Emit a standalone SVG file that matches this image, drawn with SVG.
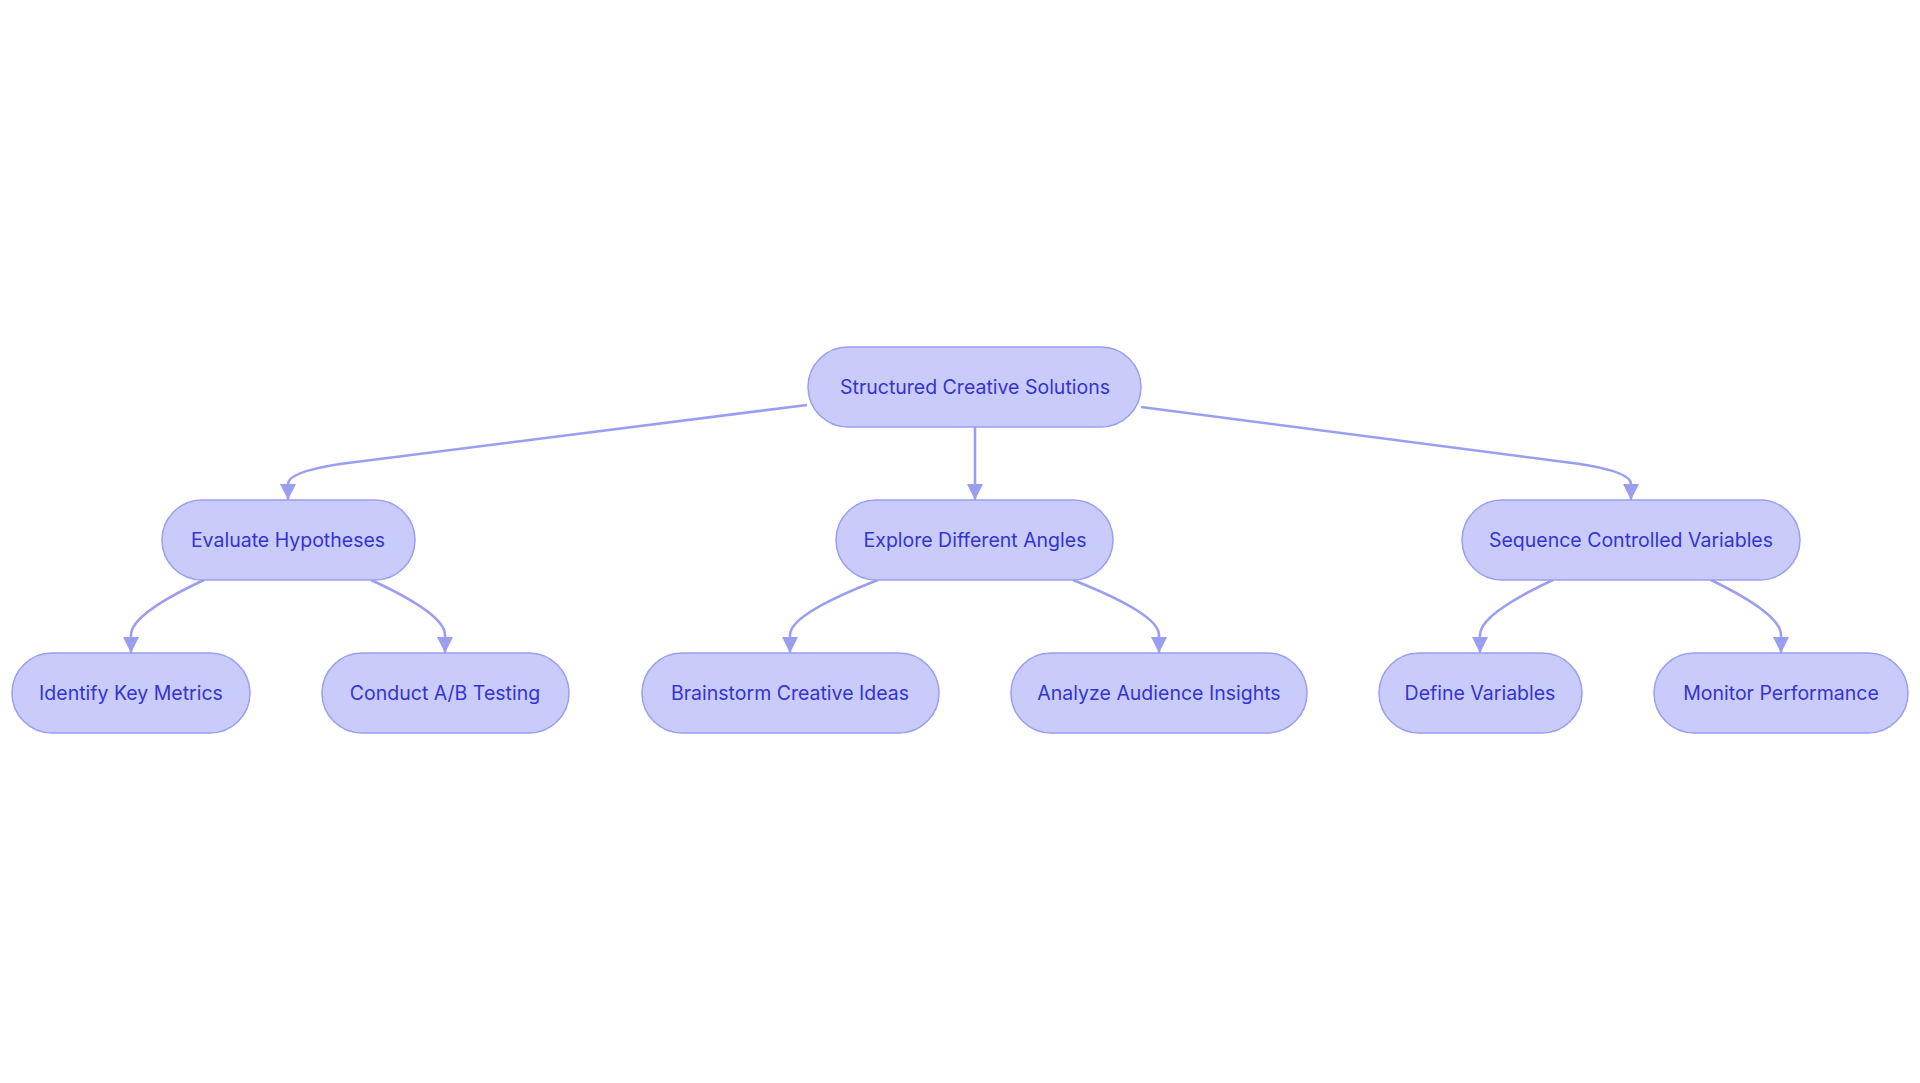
<svg xmlns="http://www.w3.org/2000/svg" width="1920" height="1083" viewBox="0 0 1920 1083">
<style>
.n rect{fill:#c9cbfb;stroke:#9a9ef0;stroke-width:1.5}
.n text{font-family:Inter,"Liberation Sans",sans-serif;font-size:19.5px;fill:#3434cf;text-anchor:middle;dominant-baseline:central}
.e path{fill:none;stroke:#9a9ef0;stroke-width:2.6}
</style>
<defs>
<marker id="a" markerUnits="userSpaceOnUse" markerWidth="20" markerHeight="20" refX="16" refY="8" orient="auto">
<path d="M0,0 L16,8 L0,16 z" fill="#9a9ef0"/>
</marker>
</defs>
<rect width="1920" height="1083" fill="#fff"/>
<g class="e">
<path d="M807,405 L340,464 Q288,472 288,484 L288,500" marker-end="url(#a)"/>
<path d="M975,426 L975,500" marker-end="url(#a)"/>
<path d="M1141,407 L1580,464 Q1631,472 1631,484 L1631,500" marker-end="url(#a)"/>
<path d="M204,580 Q131,614 131,635 L131,653" marker-end="url(#a)"/>
<path d="M371,580 Q445,614 445,635 L445,653" marker-end="url(#a)"/>
<path d="M878,580 Q790,614 790,635 L790,653" marker-end="url(#a)"/>
<path d="M1073,580 Q1159,614 1159,635 L1159,653" marker-end="url(#a)"/>
<path d="M1553,580 Q1480,614 1480,635 L1480,653" marker-end="url(#a)"/>
<path d="M1711,580 Q1781,614 1781,635 L1781,653" marker-end="url(#a)"/>
</g>
<g id="root" class="n"><rect x="808" y="347" width="333" height="80" rx="40"/><text x="975" y="387">Structured Creative Solutions</text></g>
<g id="eval" class="n"><rect x="162" y="500" width="253" height="80" rx="40"/><text x="288" y="540">Evaluate Hypotheses</text></g>
<g id="explore" class="n"><rect x="836" y="500" width="277" height="80" rx="40"/><text x="975" y="540">Explore Different Angles</text></g>
<g id="sequence" class="n"><rect x="1462" y="500" width="338" height="80" rx="40"/><text x="1631" y="540">Sequence Controlled Variables</text></g>
<g id="identify" class="n"><rect x="12" y="653" width="238" height="80" rx="40"/><text x="131" y="693">Identify Key Metrics</text></g>
<g id="conduct" class="n"><rect x="322" y="653" width="247" height="80" rx="40"/><text x="445" y="693">Conduct A/B Testing</text></g>
<g id="brainstorm" class="n"><rect x="642" y="653" width="297" height="80" rx="40"/><text x="790" y="693">Brainstorm Creative Ideas</text></g>
<g id="analyze" class="n"><rect x="1011" y="653" width="296" height="80" rx="40"/><text x="1159" y="693">Analyze Audience Insights</text></g>
<g id="define" class="n"><rect x="1379" y="653" width="203" height="80" rx="40"/><text x="1480" y="693">Define Variables</text></g>
<g id="monitor" class="n"><rect x="1654" y="653" width="254" height="80" rx="40"/><text x="1781" y="693">Monitor Performance</text></g>
</svg>
